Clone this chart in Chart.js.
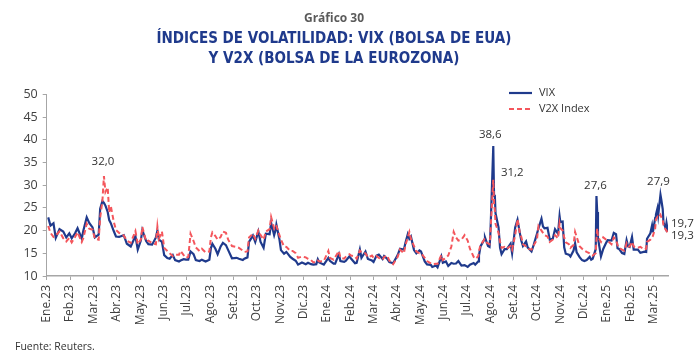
<!DOCTYPE html>
<html>
<head>
<meta charset="utf-8">
<script src="https://cdn.jsdelivr.net/npm/chart.js@4.4.1/dist/chart.umd.min.js"></script>
<style>
  html, body { margin: 0; padding: 0; background: #ffffff; }
  #wrap { position: relative; width: 700px; height: 356px; }
</style>
</head>
<body>
<div id="wrap"><canvas id="c" width="700" height="356"></canvas></div>
<script>
// ---------- DATA ----------
const monthLabels = ['Ene.23','Feb.23','Mar.23','Abr.23','May.23','Jun.23','Jul.23','Ago.23','Set.23','Oct.23','Nov.23','Dic.23',
  'Ene.24','Feb.24','Mar.24','Abr.24','May.24','Jun.24','Jul.24','Ago.24','Set.24','Oct.24','Nov.24','Dic.24',
  'Ene.25','Feb.25','Mar.25'];
const yTicks = [10, 15, 20, 25, 30, 35, 40, 45, 50];

const dates = [
'2023-01-03','2023-01-06','2023-01-10','2023-01-13','2023-01-18','2023-01-23','2023-01-27','2023-01-31',
'2023-02-03','2023-02-07','2023-02-10','2023-02-15','2023-02-17','2023-02-21','2023-02-24','2023-02-28',
'2023-03-03','2023-03-08','2023-03-10','2023-03-13','2023-03-15','2023-03-17','2023-03-20','2023-03-22','2023-03-24','2023-03-28','2023-03-31',
'2023-04-04','2023-04-10','2023-04-14','2023-04-19','2023-04-25','2023-04-28',
'2023-05-02','2023-05-04','2023-05-09','2023-05-12','2023-05-17','2023-05-22','2023-05-24','2023-05-26','2023-05-30',
'2023-06-02','2023-06-06','2023-06-09','2023-06-13','2023-06-16','2023-06-21','2023-06-23','2023-06-27','2023-06-30',
'2023-07-03','2023-07-06','2023-07-10','2023-07-13','2023-07-18','2023-07-21','2023-07-26','2023-07-31',
'2023-08-02','2023-08-04','2023-08-08','2023-08-11','2023-08-15','2023-08-18','2023-08-22','2023-08-25','2023-08-30',
'2023-09-05','2023-09-08','2023-09-13','2023-09-15','2023-09-19','2023-09-21','2023-09-26','2023-09-29',
'2023-10-03','2023-10-06','2023-10-10','2023-10-13','2023-10-18','2023-10-20','2023-10-24','2023-10-26','2023-10-27','2023-10-31',
'2023-11-02','2023-11-06','2023-11-09','2023-11-14','2023-11-17','2023-11-21','2023-11-24','2023-11-29',
'2023-12-04','2023-12-07','2023-12-11','2023-12-14','2023-12-18','2023-12-20','2023-12-22','2023-12-28',
'2024-01-03','2024-01-05','2024-01-10','2024-01-12','2024-01-17','2024-01-19','2024-01-24','2024-01-26','2024-01-31',
'2024-02-02','2024-02-07','2024-02-09','2024-02-13','2024-02-15','2024-02-20','2024-02-23','2024-02-28',
'2024-03-01','2024-03-05','2024-03-08','2024-03-13','2024-03-15','2024-03-19','2024-03-22','2024-03-27',
'2024-04-02','2024-04-05','2024-04-10','2024-04-12','2024-04-15','2024-04-17','2024-04-19','2024-04-23','2024-04-26','2024-04-30',
'2024-05-02','2024-05-07','2024-05-10','2024-05-15','2024-05-17','2024-05-22','2024-05-24','2024-05-29','2024-05-31',
'2024-06-04','2024-06-07','2024-06-11','2024-06-14','2024-06-17','2024-06-20','2024-06-24','2024-06-28',
'2024-07-02','2024-07-05','2024-07-10','2024-07-12','2024-07-16','2024-07-17','2024-07-19','2024-07-24','2024-07-25','2024-07-29','2024-07-31',
'2024-08-01','2024-08-02','2024-08-05','2024-08-06','2024-08-07','2024-08-08','2024-08-12','2024-08-14','2024-08-16','2024-08-20','2024-08-23','2024-08-28','2024-08-30',
'2024-09-03','2024-09-06','2024-09-09','2024-09-11','2024-09-13','2024-09-17','2024-09-19','2024-09-24','2024-09-27',
'2024-10-01','2024-10-03','2024-10-07','2024-10-09','2024-10-11','2024-10-15','2024-10-18','2024-10-22','2024-10-25','2024-10-29','2024-10-31',
'2024-11-01','2024-11-04','2024-11-06','2024-11-08','2024-11-12','2024-11-14','2024-11-18','2024-11-20','2024-11-22','2024-11-26','2024-11-29',
'2024-12-02','2024-12-05','2024-12-09','2024-12-11','2024-12-13','2024-12-17','2024-12-18','2024-12-19','2024-12-20','2024-12-24','2024-12-27','2024-12-31',
'2025-01-02','2025-01-07','2025-01-10','2025-01-13','2025-01-15','2025-01-17','2025-01-21','2025-01-24','2025-01-27','2025-01-29','2025-01-31',
'2025-02-03','2025-02-05','2025-02-10','2025-02-13','2025-02-18','2025-02-20','2025-02-21','2025-02-25','2025-02-27','2025-02-28',
'2025-03-03','2025-03-04','2025-03-06','2025-03-07','2025-03-10','2025-03-11','2025-03-13','2025-03-14','2025-03-17','2025-03-18','2025-03-20'
];

const vix = [
22.9,21.1,21.6,18.4,20.3,19.8,18.5,19.4,
18.3,19.4,20.5,18.2,20.0,22.9,21.7,20.7,
18.5,19.1,24.8,26.5,26.1,25.5,24.1,22.3,21.7,19.9,18.7,
18.6,19.0,17.1,16.5,18.8,15.8,
17.8,20.1,17.7,17.0,16.9,18.5,20.0,18.0,17.5,
14.6,13.96,13.8,14.6,13.5,13.2,13.4,13.7,13.6,
13.6,15.4,14.8,13.5,13.3,13.6,13.2,13.6,
16.1,17.1,16.0,14.8,16.5,17.3,16.8,15.7,13.9,
14.0,13.8,13.5,13.8,14.1,17.5,18.9,17.5,
19.8,17.5,16.2,19.3,19.2,21.7,19.0,20.2,21.3,18.1,
15.7,14.9,15.3,14.2,13.8,13.35,12.5,12.98,
12.6,12.9,12.6,12.5,12.6,13.7,13.0,12.5,
14.0,13.35,12.7,12.7,14.8,13.3,13.1,13.3,14.35,
13.85,12.8,12.9,15.85,14.0,15.4,13.75,13.4,
13.1,14.5,14.7,13.75,14.4,13.8,13.06,12.8,
14.6,16.0,15.8,17.3,19.2,18.2,18.7,15.7,15.0,15.65,
15.4,13.2,12.55,12.45,11.99,12.3,11.9,14.3,12.9,
13.2,12.2,12.85,12.7,12.75,13.3,12.3,12.4,
12.0,12.5,12.85,12.5,13.2,14.5,16.5,18.0,18.5,16.6,16.4,
18.6,23.4,38.6,27.7,27.9,23.8,20.7,16.2,14.8,15.9,15.9,17.1,15.0,
20.7,22.4,19.45,17.7,16.6,17.6,16.3,15.4,16.96,
19.3,20.5,22.6,20.9,20.5,20.6,18.0,18.2,20.3,19.3,23.2,
21.9,21.98,16.3,14.9,14.7,14.3,15.6,17.2,15.2,14.1,13.5,
13.3,13.5,14.2,13.6,13.8,15.9,27.6,24.1,18.4,14.3,15.95,17.35,
17.9,17.8,19.5,19.2,16.1,15.97,15.06,14.85,17.9,16.56,16.4,
18.6,15.8,15.8,15.1,15.35,15.3,18.2,19.4,21.1,19.6,
22.8,23.5,24.9,23.4,27.9,26.9,24.7,21.8,20.5,21.7,19.7
];

const v2x = [
21.0,19.5,18.6,18.9,19.8,18.3,17.6,18.4,
17.4,18.6,19.6,17.5,18.4,21.5,20.4,20.2,
18.2,18.0,22.8,26.6,32.0,28.5,29.5,24.0,25.5,22.0,20.1,
19.5,18.9,17.8,17.3,19.9,17.0,
18.0,20.8,17.6,17.8,17.2,17.0,20.9,18.2,19.8,
16.2,15.5,15.0,14.4,14.7,14.7,15.5,14.6,14.0,
14.2,19.3,17.7,16.3,15.5,16.0,15.2,15.4,
18.5,19.6,18.8,18.0,18.6,19.8,19.5,18.0,16.6,
16.4,16.2,15.6,15.3,15.4,18.5,19.3,18.2,
20.0,19.0,18.0,19.8,20.3,23.0,20.5,21.2,21.0,19.0,
18.0,16.5,16.4,15.5,15.5,15.0,14.0,14.3,
14.1,13.8,13.5,13.0,13.0,13.4,13.2,13.3,
15.5,14.0,13.6,14.1,15.5,14.0,13.8,14.2,14.8,
14.5,14.3,13.8,15.6,15.2,15.0,14.1,14.5,
14.0,14.4,14.0,13.6,14.2,14.5,13.4,12.6,
14.2,15.8,15.0,16.8,18.5,19.7,18.2,16.6,15.4,15.0,
15.0,14.0,13.3,12.8,12.6,12.7,12.7,14.6,13.5,
14.0,14.5,16.5,19.7,18.5,17.8,18.0,19.0,
17.8,16.0,14.2,13.8,14.3,15.5,16.8,18.0,17.5,17.2,17.0,
18.5,22.0,31.2,26.0,24.5,21.5,19.5,17.5,16.2,16.4,16.0,16.6,15.8,
19.0,22.5,19.5,18.5,17.0,16.5,16.0,15.8,16.8,
18.0,21.0,20.0,19.5,19.0,18.7,17.5,18.0,19.0,18.3,21.5,
20.5,20.0,18.5,17.4,17.0,16.2,16.8,19.7,18.6,16.5,16.0,
15.6,15.3,15.0,14.7,14.5,15.0,18.0,20.5,18.6,17.5,18.5,18.0,
17.7,17.0,18.5,18.0,16.8,16.2,15.8,15.6,17.2,16.5,16.5,
17.5,16.5,16.2,16.4,15.8,16.0,17.5,18.0,18.5,18.8,
20.5,22.5,23.0,22.8,23.5,23.0,22.5,21.0,20.2,20.0,19.3
];

// Value labels: [series key, date, dx, dy, align]
const valueLabels = [
  ['v2x', '2023-03-15', -1, -14, 'center'],
  ['vix', '2024-08-05', -3, -11, 'center'],
  ['v2x', '2024-08-05', 19, -7, 'center'],
  ['vix', '2024-12-18', -1, -10, 'center'],
  ['vix', '2025-03-10', -2, -13, 'center'],
  ['vix', '2025-03-20', 3, -8, 'left'],
  ['v2x', '2025-03-20', 3, 2, 'left']
];

// ---------- HELPERS ----------
function toX(d) {
  const [y, m, day] = d.split('-').map(Number);
  const dim = new Date(y, m, 0).getDate();
  return (y - 2023) * 12 + (m - 1) + (day - 1) / dim;
}
const xs = dates.map(toX);
const series = { vix: vix, v2x: v2x };
const fmt = v => v.toFixed(1).replace('.', ',');

const BODY = '"Open Sans", "Noto Sans", sans-serif';
const TITLE = '"DejaVu Sans Condensed", "Open Sans", sans-serif';
const BLUE = '#1f3a8c';
const RED = '#f4565c';

const overlay = {
  id: 'overlay',
  afterDatasetsDraw(chart) {
    const ctx = chart.ctx;
    const xS = chart.scales.x, yS = chart.scales.y;
    ctx.save();
    // value labels
    ctx.font = '11.5px ' + BODY;
    ctx.fillStyle = '#333333';
    ctx.textBaseline = 'middle';
    valueLabels.forEach(([key, d, dx, dy, align]) => {
      const i = dates.indexOf(d);
      const v = series[key][i];
      const px = xS.getPixelForValue(xs[i]);
      const py = yS.getPixelForValue(v);
      ctx.textAlign = align;
      ctx.fillText(fmt(v), px + dx, py + dy);
    });
    // legend
    const items = chart.data.datasets;
    const lx = 509, ly0 = 93, lh = 16;
    items.forEach((ds, k) => {
      const y = ly0 + k * lh;
      ctx.beginPath();
      ctx.strokeStyle = ds.borderColor;
      ctx.lineWidth = ds.borderWidth;
      ctx.setLineDash(ds.borderDash || []);
      ctx.moveTo(lx, y);
      ctx.lineTo(lx + 23, y);
      ctx.stroke();
      ctx.setLineDash([]);
      ctx.fillStyle = '#333333';
      ctx.textAlign = 'left';
      ctx.font = '11px ' + BODY;
      ctx.fillText(ds.label, lx + 30, y);
    });
    // source
    ctx.font = '10.5px ' + BODY;
    ctx.fillStyle = '#333333';
    ctx.textAlign = 'left';
    ctx.fillText('Fuente: Reuters.', 15, 347);
    ctx.restore();
  }
};

new Chart(document.getElementById('c'), {
  type: 'line',
  data: {
    datasets: [
      { label: 'VIX', data: xs.map((x, i) => ({ x: x, y: vix[i] })), borderColor: BLUE, borderWidth: 2.2,
        pointRadius: 0, tension: 0, order: 1 },
      { label: 'V2X Index', data: xs.map((x, i) => ({ x: x, y: v2x[i] })), borderColor: RED, borderWidth: 2,
        borderDash: [5, 3], pointRadius: 0, tension: 0, order: 0 }
    ]
  },
  options: {
    responsive: false,
    animation: false,
    events: [],
    layout: { padding: { left: 0, right: 32, top: 0, bottom: 22 } },
    plugins: {
      legend: { display: false },
      tooltip: { enabled: false },
      title: { display: true, text: 'Gráfico 30', color: '#5a5a5a',
        font: { family: BODY, size: 12, weight: 'bold' }, padding: { top: 11, bottom: 2 } },
      subtitle: { display: true, text: ['ÍNDICES DE VOLATILIDAD: VIX (BOLSA DE EUA)', 'Y V2X (BOLSA DE LA EUROZONA)'],
        color: BLUE, font: { family: TITLE, size: 15, weight: 'bold', lineHeight: 1.33 }, padding: { top: 2, bottom: 25 } }
    },
    scales: {
      x: {
        type: 'linear', min: 0, max: xs[xs.length - 1],
        afterBuildTicks: s => { s.ticks = monthLabels.map((_, i) => ({ value: i })); },
        afterFit: s => { s.height = 58; },
        ticks: { autoSkip: false, minRotation: 90, maxRotation: 90, padding: 5,
          callback: v => monthLabels[v], color: '#404040', font: { family: BODY, size: 12 } },
        grid: { drawOnChartArea: false, drawTicks: true, tickLength: 4, color: '#a6a6a6' },
        border: { color: '#a6a6a6', width: 1.5 }
      },
      y: {
        min: yTicks[0], max: yTicks[yTicks.length - 1],
        afterBuildTicks: s => { s.ticks = yTicks.map(v => ({ value: v })); },
        afterFit: s => { s.width = 46.7; },
        ticks: { padding: 5, color: '#404040', font: { family: BODY, size: 12.5 } },
        grid: { drawOnChartArea: false, drawTicks: true, tickLength: 4, color: '#a6a6a6' },
        border: { color: '#a6a6a6', width: 1 }
      }
    }
  },
  plugins: [overlay]
});
</script>
</body>
</html>
